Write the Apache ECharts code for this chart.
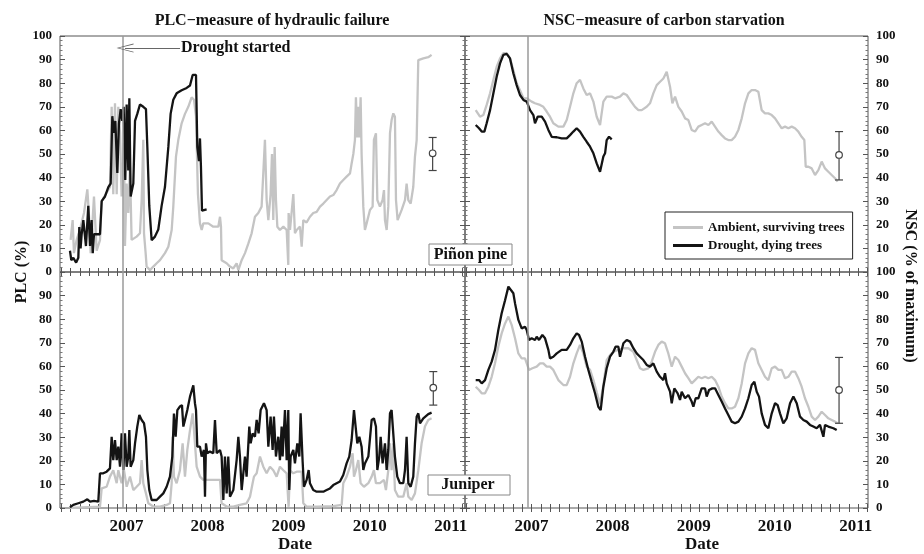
<!DOCTYPE html>
<html><head><meta charset="utf-8">
<script src="https://cdn.jsdelivr.net/npm/echarts@6/dist/echarts.min.js"></script>
<style>html,body{margin:0;padding:0;background:#fff}#c{width:924px;height:554px}</style>
</head><body><div id="c"></div>
<script>
// ---------- DATA (decimal year, %) ----------
const yearLabels = [2007, 2008, 2009, 2010, 2011];
const droughtStart = 2006.96;

const plcPinonAmbient = [[2006.312,13.6],[2006.337,22],[2006.353,8],[2006.386,13.6],[2006.427,18],[2006.477,25],[2006.518,35],[2006.542,22],[2006.559,8],[2006.600,32],[2006.633,9],[2006.674,13.5],[2006.695,30],[2006.797,36],[2006.818,70],[2006.838,33],[2006.859,71.5],[2006.880,33],[2006.900,70],[2006.921,59],[2006.941,32],[2006.970,54.5],[2006.982,11],[2007.003,37.5],[2007.023,25],[2007.044,44.6],[2007.064,13.6],[2007.085,14],[2007.126,15],[2007.167,16.4],[2007.188,30.5],[2007.208,56],[2007.217,16.4],[2007.237,8],[2007.249,2.3],[2007.291,0.8],[2007.332,2.3],[2007.373,3.7],[2007.414,5],[2007.475,8],[2007.517,10.7],[2007.558,17.8],[2007.578,27.7],[2007.611,48.9],[2007.640,56],[2007.681,63],[2007.722,67],[2007.763,70],[2007.804,74],[2007.833,73],[2007.858,66],[2007.882,33],[2007.907,20.6],[2007.928,17.8],[2007.948,20.6],[2008.010,20.6],[2008.071,19.2],[2008.133,19.2],[2008.154,23.4],[2008.166,19.2],[2008.174,5],[2008.236,3.7],[2008.277,2.3],[2008.318,1.5],[2008.359,3.7],[2008.380,0.8],[2008.421,5],[2008.462,8],[2008.503,12],[2008.544,16.4],[2008.585,23.4],[2008.626,25],[2008.667,27.7],[2008.688,42],[2008.708,56],[2008.729,30.5],[2008.750,22],[2008.778,33],[2008.795,50],[2008.811,22],[2008.828,53],[2008.844,30.5],[2008.861,19.2],[2008.893,17.8],[2008.935,19.2],[2008.976,17.8],[2008.996,3],[2009.000,25],[2009.017,17.8],[2009.041,17.8],[2009.058,33],[2009.078,16.4],[2009.099,17.8],[2009.140,19.2],[2009.161,10.7],[2009.181,22],[2009.222,21],[2009.263,23.4],[2009.304,25],[2009.346,25.5],[2009.387,27.7],[2009.428,29],[2009.469,30.5],[2009.510,32],[2009.551,32.6],[2009.592,34.7],[2009.633,37.5],[2009.674,39],[2009.715,40.4],[2009.757,41.8],[2009.777,46],[2009.798,50],[2009.818,56],[2009.830,74],[2009.847,57],[2009.859,70],[2009.872,57],[2009.888,74],[2009.900,50],[2009.921,27.7],[2009.941,17.8],[2009.962,20.6],[2010.003,26.3],[2010.036,27.7],[2010.052,56],[2010.077,58.8],[2010.094,30.5],[2010.126,27.7],[2010.159,30.5],[2010.176,34.7],[2010.188,22],[2010.209,17.8],[2010.229,27.7],[2010.250,58.8],[2010.270,64.4],[2010.291,67.2],[2010.311,65.8],[2010.324,30.5],[2010.344,22],[2010.365,22],[2010.394,26.3],[2010.435,30.5],[2010.455,37.5],[2010.476,30.5],[2010.505,29],[2010.537,36],[2010.558,48.9],[2010.579,55.9],[2010.599,89.8],[2010.611,89],[2010.661,90.5],[2010.722,91],[2010.763,92]];

const plcPinonDrought = [[2006.304,9],[2006.320,5],[2006.345,6],[2006.380,4],[2006.407,6],[2006.419,19],[2006.435,10],[2006.448,16],[2006.469,22],[2006.501,11],[2006.530,28],[2006.551,11],[2006.571,22],[2006.585,8],[2006.600,16],[2006.633,16],[2006.674,16],[2006.695,30],[2006.736,32],[2006.777,36],[2006.806,37.5],[2006.826,66],[2006.847,59],[2006.863,64],[2006.888,42],[2006.908,63],[2006.929,69],[2006.949,64],[2006.966,70],[2006.986,39],[2007.003,71],[2007.023,43],[2007.036,73.6],[2007.052,32],[2007.085,37.5],[2007.106,64],[2007.134,67],[2007.167,71],[2007.208,70],[2007.241,69],[2007.258,53],[2007.282,28],[2007.311,13.5],[2007.352,15],[2007.393,18],[2007.434,28],[2007.475,36],[2007.517,53],[2007.545,67],[2007.578,73],[2007.619,75.7],[2007.681,77],[2007.743,78],[2007.784,79],[2007.817,83.5],[2007.858,83.5],[2007.874,53],[2007.895,47],[2007.907,56.6],[2007.919,44.6],[2007.932,26],[2007.948,26],[2007.989,26.5]];

const plcJuniperAmbient = [[2006.304,0],[2006.674,0.6],[2006.695,8.3],[2006.756,9],[2006.797,13.3],[2006.838,16],[2006.880,10.5],[2006.900,16],[2006.941,10.5],[2006.970,16],[2007.003,9],[2007.044,13.3],[2007.085,7.6],[2007.126,9],[2007.167,10.5],[2007.188,20.3],[2007.208,10.5],[2007.241,6.2],[2007.270,2],[2007.332,0.6],[2007.414,0.6],[2007.496,1.3],[2007.537,2],[2007.558,10.5],[2007.570,30.2],[2007.586,13.3],[2007.619,10.5],[2007.660,16],[2007.693,27.4],[2007.722,13.3],[2007.751,24.6],[2007.784,33],[2007.817,40.1],[2007.833,33],[2007.866,17.5],[2007.907,13.3],[2007.948,11.9],[2008.030,11.9],[2008.113,11.9],[2008.154,11.9],[2008.174,2],[2008.236,0.6],[2008.318,0.6],[2008.400,1.3],[2008.482,2],[2008.524,4.8],[2008.556,10.5],[2008.573,13.3],[2008.606,14.7],[2008.647,21.8],[2008.688,17.5],[2008.729,14.7],[2008.770,17.5],[2008.811,16],[2008.852,13.3],[2008.893,17.5],[2008.935,16],[2008.976,14.7],[2008.996,15.4],[2009.000,0.5],[2009.017,16],[2009.058,14.7],[2009.099,15.4],[2009.161,15.4],[2009.181,2],[2009.222,0.6],[2009.346,0.6],[2009.551,0.8],[2009.654,1.3],[2009.674,10.5],[2009.715,13.3],[2009.757,17.5],[2009.789,23.2],[2009.806,13.3],[2009.830,16],[2009.859,20.3],[2009.888,10.5],[2009.929,9],[2009.983,10.5],[2010.024,13.3],[2010.052,16],[2010.077,10.5],[2010.126,10.5],[2010.176,11.9],[2010.200,7.6],[2010.229,16],[2010.250,27.4],[2010.270,16],[2010.291,27.4],[2010.311,7.6],[2010.352,4.8],[2010.414,4.8],[2010.455,10.5],[2010.476,4.8],[2010.517,3.4],[2010.558,6.2],[2010.599,16],[2010.640,27.4],[2010.681,34.5],[2010.722,37.3],[2010.763,38]];

const plcJuniperDrought = [[2006.304,0.3],[2006.345,1.3],[2006.407,2],[2006.469,2.7],[2006.518,3.7],[2006.551,2.7],[2006.600,3],[2006.653,2.7],[2006.674,14.7],[2006.715,14.7],[2006.756,15.4],[2006.797,16.8],[2006.818,30.2],[2006.838,20.3],[2006.859,28.8],[2006.880,20.3],[2006.900,26],[2006.921,17.5],[2006.941,31.6],[2006.962,16.1],[2006.982,31.6],[2007.003,17.5],[2007.023,21.8],[2007.036,33],[2007.052,17.5],[2007.085,20.3],[2007.106,27.4],[2007.134,34.5],[2007.159,39.4],[2007.188,37.3],[2007.217,35.9],[2007.241,30.2],[2007.258,16.1],[2007.282,7.6],[2007.311,3.4],[2007.373,3.4],[2007.414,4.8],[2007.455,6.2],[2007.496,9],[2007.537,13.3],[2007.566,21.8],[2007.586,40],[2007.607,30.2],[2007.628,41.5],[2007.660,43],[2007.685,43.6],[2007.702,34.5],[2007.722,37.3],[2007.751,41.5],[2007.784,47.2],[2007.825,52],[2007.845,44.4],[2007.858,41.5],[2007.874,26],[2007.907,26],[2007.928,21.8],[2007.956,24.6],[2007.969,4.8],[2007.981,27.4],[2007.997,23.2],[2008.030,23.9],[2008.071,23.2],[2008.092,37.3],[2008.113,23.2],[2008.154,24.6],[2008.174,21.8],[2008.195,3.4],[2008.215,21.8],[2008.236,6.2],[2008.256,21.8],[2008.277,4.8],[2008.318,7.6],[2008.359,20.3],[2008.380,30.2],[2008.400,21.8],[2008.421,7.6],[2008.462,21.8],[2008.482,13.3],[2008.515,34.5],[2008.532,27.4],[2008.556,31.6],[2008.585,30.2],[2008.606,37.3],[2008.630,31.6],[2008.655,41.5],[2008.696,44.4],[2008.729,41.5],[2008.750,26],[2008.778,38.7],[2008.803,24.6],[2008.819,38.7],[2008.844,21.8],[2008.873,30.2],[2008.893,20.3],[2008.914,34.5],[2008.926,21.8],[2008.955,41.5],[2008.976,20.3],[2008.996,41.5],[2009.008,7.6],[2009.025,21.8],[2009.058,24.6],[2009.078,18.9],[2009.107,27.4],[2009.132,21.8],[2009.148,40.1],[2009.173,19.6],[2009.189,9],[2009.222,11.9],[2009.247,16.1],[2009.263,10.5],[2009.304,7.6],[2009.346,6.9],[2009.387,6.9],[2009.428,6.9],[2009.469,7.6],[2009.510,8.3],[2009.551,9.7],[2009.592,10.5],[2009.633,11.2],[2009.674,14],[2009.715,18.9],[2009.748,21.8],[2009.777,28.8],[2009.806,41.5],[2009.830,42.2],[2009.847,27.4],[2009.872,30.2],[2009.900,26],[2009.921,16.1],[2009.941,18.9],[2009.983,21.8],[2010.024,37.3],[2010.052,38],[2010.077,34.5],[2010.094,16.1],[2010.118,21.8],[2010.135,30.2],[2010.159,18.9],[2010.188,27.4],[2010.209,16.1],[2010.229,24.6],[2010.250,40.1],[2010.270,41.5],[2010.291,40.8],[2010.311,21.8],[2010.340,13.3],[2010.373,10.5],[2010.414,10.5],[2010.435,16.1],[2010.455,30.2],[2010.476,10.5],[2010.505,9],[2010.537,13.3],[2010.558,27.4],[2010.579,38.7],[2010.599,40.1],[2010.620,35.9],[2010.661,38],[2010.722,39.8],[2010.763,40.4]];

const nscPinonAmbient = [[2006.313,68.6],[2006.366,65.8],[2006.407,66.5],[2006.448,70.8],[2006.490,75.7],[2006.531,81.4],[2006.572,87],[2006.613,90.5],[2006.654,92.7],[2006.695,92.7],[2006.736,90.5],[2006.777,85.6],[2006.818,80],[2006.859,77],[2006.901,73.6],[2006.942,73.6],[2006.962,72.9],[2007.003,72.2],[2007.044,71.5],[2007.106,70.8],[2007.147,70],[2007.188,68],[2007.229,65.8],[2007.270,63],[2007.332,61.6],[2007.394,61.6],[2007.435,64.4],[2007.476,70],[2007.517,75.7],[2007.558,80],[2007.599,81.4],[2007.640,77.8],[2007.681,75],[2007.723,75.7],[2007.764,72.2],[2007.805,65.8],[2007.846,62.3],[2007.866,67.2],[2007.887,72.2],[2007.928,74.3],[2007.990,74.3],[2008.031,73.6],[2008.092,74.3],[2008.134,75.7],[2008.175,75],[2008.216,72.9],[2008.277,70],[2008.319,68.6],[2008.360,68.6],[2008.421,70],[2008.462,71.5],[2008.503,75.7],[2008.545,79.2],[2008.586,80.6],[2008.627,82],[2008.668,84.9],[2008.709,78.5],[2008.738,71.5],[2008.771,74.3],[2008.812,70],[2008.853,68],[2008.894,65.1],[2008.935,64.4],[2008.976,60.2],[2009.017,59.5],[2009.058,61.6],[2009.099,62.3],[2009.141,63],[2009.182,62.3],[2009.223,63.7],[2009.264,61.6],[2009.305,59.5],[2009.346,58],[2009.387,56.6],[2009.428,55.9],[2009.469,55.9],[2009.510,57.3],[2009.552,60.2],[2009.593,65.1],[2009.634,71.5],[2009.675,75.7],[2009.716,77.1],[2009.757,77.1],[2009.798,76.4],[2009.839,68.6],[2009.880,67.2],[2009.921,67.2],[2009.963,66.5],[2010.004,65.1],[2010.045,63],[2010.086,60.9],[2010.127,61.6],[2010.168,60.9],[2010.209,61.6],[2010.250,60.9],[2010.291,59.5],[2010.332,57.3],[2010.365,55.9],[2010.382,44.6],[2010.415,44.6],[2010.456,43.9],[2010.497,41.1],[2010.538,43.2],[2010.579,46.8],[2010.620,43.9],[2010.661,42.5],[2010.702,41.1],[2010.743,39.7],[2010.776,38.3]];

const nscPinonDrought = [[2006.313,62.3],[2006.354,60.9],[2006.387,59.5],[2006.420,59.5],[2006.448,63],[2006.490,68.6],[2006.531,75.7],[2006.572,82.8],[2006.613,88.4],[2006.654,92],[2006.695,92.4],[2006.736,90.5],[2006.777,84.2],[2006.818,79.2],[2006.859,75],[2006.901,72.9],[2006.942,72.2],[2006.983,68.6],[2007.024,66.5],[2007.044,63],[2007.077,65.8],[2007.127,65.8],[2007.168,63.7],[2007.209,60.2],[2007.250,57.3],[2007.312,57.1],[2007.373,56.6],[2007.435,56.6],[2007.476,58],[2007.517,59.5],[2007.558,60.9],[2007.599,59.5],[2007.640,57.3],[2007.681,55.2],[2007.723,53.1],[2007.764,50.3],[2007.805,46],[2007.846,42.5],[2007.866,41.8],[2007.887,48.9],[2007.908,50.3],[2007.928,55.9],[2007.957,57.3],[2007.990,56.2]];

const nscJuniperAmbient = [[2006.313,51.4],[2006.354,50],[2006.387,48.6],[2006.428,48.6],[2006.469,51.4],[2006.510,55.6],[2006.551,61.3],[2006.592,68.4],[2006.633,74],[2006.675,78.2],[2006.716,81.1],[2006.757,77.5],[2006.798,71.9],[2006.839,65.5],[2006.880,63.4],[2006.921,63.4],[2006.970,58.5],[2007.012,59.2],[2007.065,59.9],[2007.106,61.3],[2007.147,61.3],[2007.188,59.9],[2007.229,59.9],[2007.270,58.5],[2007.332,54.2],[2007.394,52.1],[2007.435,52.1],[2007.476,55.6],[2007.517,61.3],[2007.558,65.5],[2007.599,69.1],[2007.640,65.5],[2007.681,59.9],[2007.702,60.6],[2007.723,58.5],[2007.764,54.2],[2007.805,49],[2007.846,44],[2007.866,44],[2007.887,52],[2007.928,62.7],[2007.969,64.8],[2008.010,66.2],[2008.072,67],[2008.134,67.7],[2008.195,67.7],[2008.257,66.2],[2008.298,62.7],[2008.339,59.2],[2008.380,58.5],[2008.442,59.2],[2008.483,62],[2008.524,66.2],[2008.565,69.1],[2008.606,70.5],[2008.647,69.8],[2008.688,65.5],[2008.730,59.9],[2008.771,64.1],[2008.812,62.7],[2008.853,59.9],[2008.894,57.1],[2008.935,55],[2008.976,52.8],[2009.017,54.2],[2009.058,55.6],[2009.099,55],[2009.141,55.6],[2009.182,55],[2009.223,55.6],[2009.264,54.2],[2009.305,51.4],[2009.346,47.2],[2009.387,44.4],[2009.428,42.2],[2009.469,42.2],[2009.510,42.9],[2009.552,46.5],[2009.593,52.8],[2009.634,61.3],[2009.675,65.5],[2009.716,67.7],[2009.757,67],[2009.798,61.3],[2009.839,58.5],[2009.880,55.6],[2009.921,54.2],[2009.963,59.2],[2010.004,59.9],[2010.045,58.5],[2010.086,58.5],[2010.127,55],[2010.168,55.6],[2010.209,57.8],[2010.250,57.8],[2010.291,55],[2010.332,51.4],[2010.373,46.5],[2010.415,42.9],[2010.456,38.7],[2010.497,37.3],[2010.538,38.7],[2010.579,40.8],[2010.620,39.4],[2010.661,38],[2010.702,37.3],[2010.743,36.6],[2010.776,35.9]];

const nscJuniperDrought = [[2006.313,54.2],[2006.354,54.2],[2006.387,52.8],[2006.428,54.2],[2006.469,58.5],[2006.510,62],[2006.551,67],[2006.592,75.4],[2006.633,82.5],[2006.675,88],[2006.716,93.8],[2006.736,93],[2006.777,91],[2006.798,86.7],[2006.839,79.7],[2006.880,76.1],[2006.921,76.8],[2006.942,75.4],[2006.970,71.2],[2007.003,71.9],[2007.044,71.2],[2007.065,72.6],[2007.094,71.2],[2007.135,73.3],[2007.168,71.9],[2007.209,67],[2007.229,63.4],[2007.270,64.1],[2007.312,65.5],[2007.373,67],[2007.435,67],[2007.476,69.1],[2007.517,71.9],[2007.558,74],[2007.587,73.3],[2007.620,70.5],[2007.661,64.1],[2007.702,58.5],[2007.743,53.5],[2007.784,48.6],[2007.825,42.9],[2007.854,41.5],[2007.887,51.4],[2007.928,59.2],[2007.969,64.1],[2008.010,66.2],[2008.039,68.4],[2008.072,68.4],[2008.092,64.1],[2008.134,69.8],[2008.175,71.2],[2008.216,70.5],[2008.257,67.7],[2008.298,65.5],[2008.339,64.1],[2008.380,62.7],[2008.421,60.6],[2008.462,59.9],[2008.503,61.3],[2008.545,57.8],[2008.586,55.6],[2008.627,54.2],[2008.647,57.1],[2008.668,52.8],[2008.709,49.3],[2008.730,44.4],[2008.762,50.7],[2008.803,48.6],[2008.832,45.8],[2008.853,49.3],[2008.894,46.5],[2008.935,47.9],[2008.976,45.1],[2008.997,42.9],[2009.025,46.5],[2009.058,46.5],[2009.099,50.7],[2009.141,50.7],[2009.161,47.2],[2009.190,50],[2009.231,50.7],[2009.264,50.7],[2009.305,47.9],[2009.346,45.1],[2009.387,42.2],[2009.428,39.4],[2009.469,36.6],[2009.510,35.9],[2009.552,36.6],[2009.593,38.7],[2009.634,42.2],[2009.675,46.5],[2009.716,52.1],[2009.749,53.5],[2009.778,49.3],[2009.806,47.2],[2009.839,40.1],[2009.880,35.2],[2009.921,33.8],[2009.942,33],[2009.963,40.1],[2010.004,44.4],[2010.036,43.6],[2010.065,40.1],[2010.106,35.9],[2010.147,38],[2010.189,44.4],[2010.230,47.2],[2010.271,44.4],[2010.312,38.7],[2010.353,37.3],[2010.394,36.6],[2010.435,35.2],[2010.476,34.5],[2010.517,33.8],[2010.558,35.2],[2010.579,34.5],[2010.600,30.2],[2010.620,35.2],[2010.661,34.5],[2010.723,33.8],[2010.764,33]];

// [x, mean, low, high]
const errPlcPinon   = [[2010.776, 50.3, 43.0, 57.0]];
const errPlcJuniper = [[2010.784, 51.0, 43.6, 57.8]];
const errNscPinon   = [[2010.793, 49.6, 39.0, 59.5]];
const errNscJuniper = [[2010.793, 50.0, 35.9, 63.8]];

// arrow annotation "Drought started": [x, y] of tip and tail
const droughtArrow = [[2006.983, 94.9], [2007.661, 94.9]];

const seriesNames = ['Ambient, surviving trees', 'Drought, dying trees'];

// ---------- STYLE / LAYOUT ----------
const SERIF = '"Liberation Serif","Times New Roman",serif';
const GRAY = '#c4c4c4', BLACK = '#141414', AX = '#555';
const X_MIN = 2006.181;
const grids = [
  {left: 60,  top: 36,  width: 405, height: 236},
  {left: 465, top: 36,  width: 403, height: 236},
  {left: 60,  top: 272, width: 405, height: 236},
  {left: 465, top: 272, width: 403, height: 236}
];
const xMax = [2011.175, 2011.150, 2011.175, 2011.150];
const xTickVals = [];
for (let t = 2006.198; t < 2011.15; t += 0.115) xTickVals.push(+t.toFixed(3));

const xAxes = [], yAxes = [];
grids.forEach((g, i) => {
  const bottomRow = i >= 2, rightCol = i % 2 === 1;
  ['bottom', 'top'].forEach(pos => {
    xAxes.push({
      type: 'value', gridIndex: i, position: pos, min: X_MIN, max: xMax[i],
      axisLine: {show: false}, splitLine: {show: false},
      axisTick: {show: true, inside: true, length: 4, customValues: xTickVals, lineStyle: {color: AX}},
      axisLabel: {show: pos === 'bottom' && bottomRow, customValues: yearLabels,
        formatter: v => String(Math.round(v)), margin: 10,
        fontFamily: SERIF, fontSize: 17, fontWeight: 'bold', color: '#111'}
    });
  });
  ['left', 'right'].forEach(pos => {
    const labelled = (pos === 'left') !== rightCol;
    yAxes.push({
      type: 'value', gridIndex: i, position: pos, min: 0, max: 100, interval: 10,
      axisLine: {show: false}, splitLine: {show: false},
      axisTick: {show: true, inside: true, length: 5, lineStyle: {color: AX}},
      minorTick: {show: true, splitNumber: 5, length: 2.5, lineStyle: {color: '#777'}},
      axisLabel: {show: labelled, margin: 8,
        showMinLabel: !(i === 1), showMaxLabel: !(i === 2),
        fontFamily: SERIF, fontSize: 13, fontWeight: 'bold', color: '#111'}
    });
  });
});

function lineSeries(name, data, gi, color, extra) {
  return Object.assign({
    name, type: 'line', data, xAxisIndex: gi * 2, yAxisIndex: gi * 2,
    showSymbol: false, symbol: 'none', animation: false,
    lineStyle: {color, width: 2.3}, itemStyle: {color}
  }, extra || {});
}
const droughtMark = {
  silent: true, symbol: 'none', animation: false,
  lineStyle: {color: '#9a9a9a', width: 1.5, type: 'solid'}, label: {show: false},
  data: [{xAxis: droughtStart}]
};
function errSeries(data, gi) {
  return {
    type: 'custom', data, xAxisIndex: gi * 2, yAxisIndex: gi * 2, z: 5, animation: false,
    renderItem: (params, api) => {
      const x = api.value(0);
      const c = api.coord([x, api.value(1)]);
      const lo = api.coord([x, api.value(2)]);
      const hi = api.coord([x, api.value(3)]);
      const st = {stroke: '#444', lineWidth: 1.2};
      return {type: 'group', children: [
        {type: 'line', shape: {x1: lo[0], y1: lo[1], x2: hi[0], y2: hi[1]}, style: st},
        {type: 'line', shape: {x1: lo[0] - 4, y1: lo[1], x2: lo[0] + 4, y2: lo[1]}, style: st},
        {type: 'line', shape: {x1: hi[0] - 4, y1: hi[1], x2: hi[0] + 4, y2: hi[1]}, style: st},
        {type: 'circle', shape: {cx: c[0], cy: c[1], r: 3.3}, style: {fill: '#fff', stroke: '#444', lineWidth: 1.2}}
      ]};
    }
  };
}

const series = [
  lineSeries(seriesNames[0], plcPinonAmbient, 0, GRAY, {markLine: droughtMark}),
  lineSeries(seriesNames[1], plcPinonDrought, 0, BLACK, {markLine: {
    silent: true, animation: false,
    lineStyle: {color: '#666', width: 1, type: 'solid'},
    data: [[
      {coord: droughtArrow[0], symbol: 'path://M5,0 L10,10 L9,10 L5,1.5 L1,10 L0,10 Z', symbolSize: [9, 17]},
      {coord: droughtArrow[1], symbol: 'none'}
    ]],
    label: {show: true, position: 'end', distance: 1, formatter: 'Drought started',
      fontFamily: SERIF, fontSize: 16, fontWeight: 'bold', color: '#111'}
  }}),
  errSeries(errPlcPinon, 0),
  lineSeries(seriesNames[0], nscPinonAmbient, 1, GRAY, {markLine: droughtMark}),
  lineSeries(seriesNames[1], nscPinonDrought, 1, BLACK),
  errSeries(errNscPinon, 1),
  lineSeries(seriesNames[0], plcJuniperAmbient, 2, GRAY, {markLine: droughtMark}),
  lineSeries(seriesNames[1], plcJuniperDrought, 2, BLACK),
  errSeries(errPlcJuniper, 2),
  lineSeries(seriesNames[0], nscJuniperAmbient, 3, GRAY, {markLine: droughtMark}),
  lineSeries(seriesNames[1], nscJuniperDrought, 3, BLACK),
  errSeries(errNscJuniper, 3)
];

const txt = (text, x, y, size, extra) => Object.assign({
  type: 'text', x, y, z: 10,
  style: {text, fill: '#111', font: 'bold ' + size + 'px ' + SERIF,
    align: 'center', verticalAlign: 'middle', textAlign: 'center', textVerticalAlign: 'middle'}
}, extra || {});

const option = {
  backgroundColor: '#fff',
  animation: false,
  grid: grids.map(g => Object.assign({show: true, borderColor: AX, borderWidth: 1, backgroundColor: 'transparent'}, g)),
  xAxis: xAxes,
  yAxis: yAxes,
  legend: {
    data: seriesNames, orient: 'vertical', left: 665, top: 212,
    icon: 'rect', itemWidth: 30, itemHeight: 3, itemGap: 3,
    padding: [8, 8, 6, 8], backgroundColor: '#fff', borderColor: '#222', borderWidth: 1,
    textStyle: {fontFamily: SERIF, fontSize: 13, fontWeight: 'bold', color: '#111', lineHeight: 15},
    selectedMode: false
  },
  graphic: [
    txt('PLC\u2212measure of hydraulic failure', 272, 21, 16),
    txt('NSC\u2212measure of carbon starvation', 664, 21, 16),
    txt('PLC (%)', 22, 272, 16, {rotation: Math.PI / 2}),
    txt('NSC (% of maximum)', 910, 286, 16, {rotation: -Math.PI / 2}),
    txt('Date', 295, 545, 17),
    txt('Date', 702, 545, 17),
    {type: 'rect', z: 9, shape: {x: 429, y: 244, width: 83, height: 21}, style: {fill: '#fff', stroke: '#888', lineWidth: 1}},
    txt('Pi\u00f1on pine', 470.5, 254.5, 16),
    {type: 'rect', z: 9, shape: {x: 428, y: 475, width: 82, height: 20}, style: {fill: '#fff', stroke: '#888', lineWidth: 1}},
    txt('Juniper', 468, 485, 16)
  ],
  series
};
const chart = echarts.init(document.getElementById('c'), null, {renderer: 'canvas'});
chart.setOption(option);
</script>
</body></html>
